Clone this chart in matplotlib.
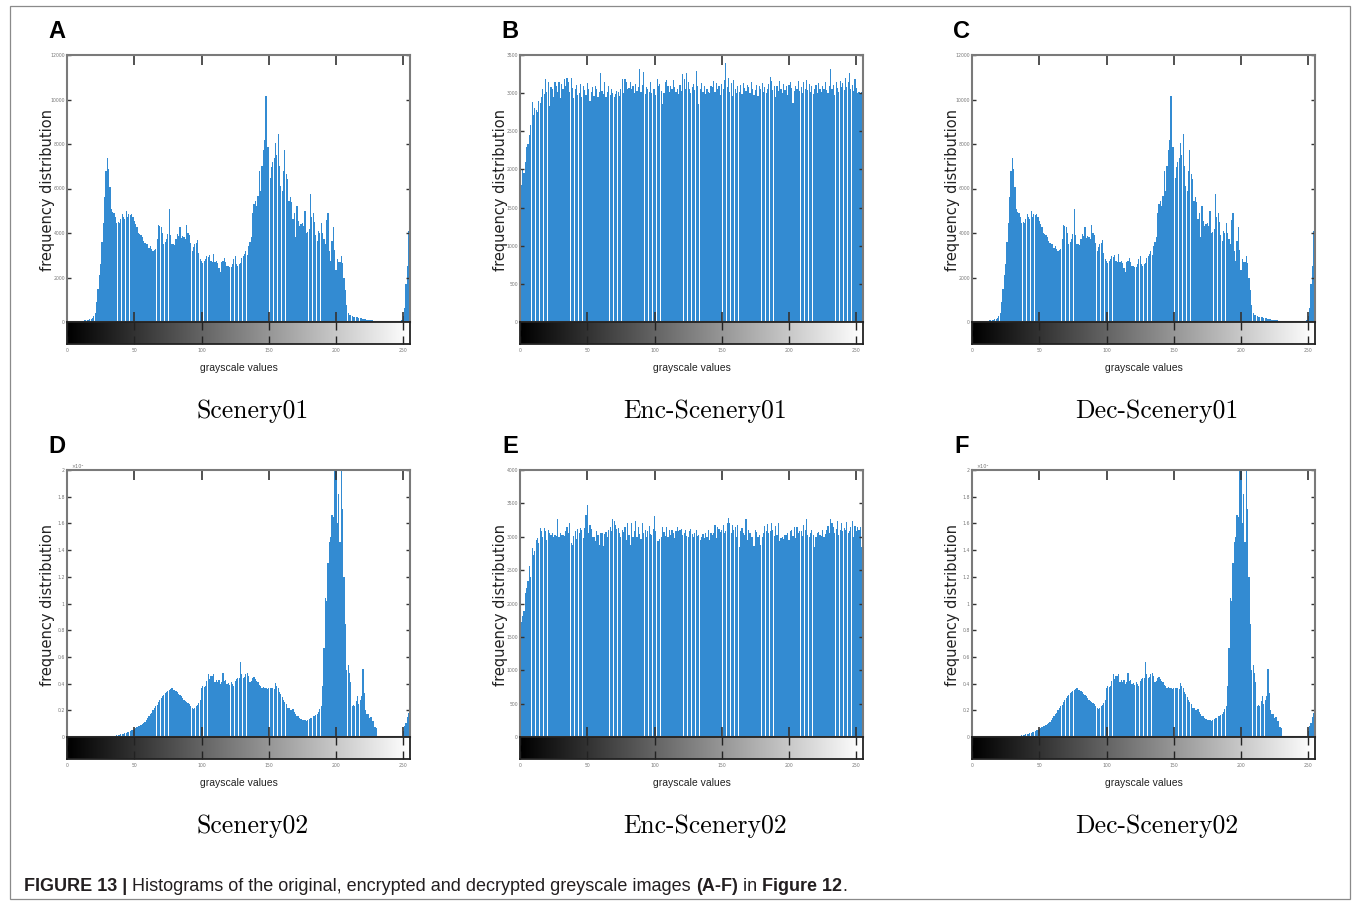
import matplotlib.pyplot as plt
import numpy as np
from matplotlib.patches import Rectangle

W, H = 1356, 901

# histogram counts for grey levels 0..255 (16 per row)
scenery01 = [
    0, 0, 0, 0, 0, 0, 0, 0, 0, 0, 0, 20, 50, 70, 100, 105,
    110, 120, 150, 180, 250, 400, 900, 1500, 2100, 2600, 3600, 4470, 5600, 6800, 7380, 6880,
    6050, 5100, 4950, 4880, 4700, 4470, 4500, 4450, 4620, 4850, 4700, 4650, 4970, 4700, 4850, 4800,
    4850, 4700, 4550, 4400, 4250, 4000, 3950, 3900, 3800, 3640, 3570, 3520, 3490, 3340, 3400, 3270,
    3190, 3250, 3300, 3720, 4370, 4300, 4250, 4020, 3490, 3600, 3720, 3950, 5075, 3900, 3500, 3490,
    3480, 3720, 3950, 3850, 4250, 3765, 3850, 3800, 3750, 4370, 4000, 3900, 3570, 3190, 3350, 3500,
    3550, 3670, 3120, 2820, 2750, 2670, 2750, 2820, 2970, 2900, 3000, 2750, 2700, 3040, 2700, 2750,
    2650, 2440, 2260, 2700, 2750, 2890, 2700, 2520, 2500, 2450, 2480, 2590, 2820, 2970, 2600, 2520,
    2600, 2650, 2890, 2950, 3040, 3190, 3000, 3420, 3600, 3800, 4920, 5300, 5450, 5200, 5680, 6800,
    5900, 7000, 7710, 8190, 10150, 7860, 7850, 6480, 6960, 7200, 7380, 8040, 7500, 8460, 7030, 6120,
    5900, 6800, 7710, 6630, 6430, 5450, 5600, 5400, 4620, 4920, 3800, 5230, 4520, 4320, 4400, 4450,
    4300, 5000, 3980, 4050, 4200, 5750, 4700, 4920, 4500, 3900, 3640, 4100, 4000, 4430, 4000, 3720,
    3500, 4580, 4920, 3200, 2740, 3640, 4250, 3220, 2320, 2820, 2700, 2700, 2970, 2650, 2000, 1460,
    780, 400, 330, 300, 270, 240, 230, 220, 210, 200, 180, 160, 140, 135, 120, 105,
    100, 90, 80, 70, 60, 50, 30, 25, 20, 15, 0, 0, 0, 0, 0, 0,
    0, 0, 0, 0, 0, 0, 0, 0, 30, 90, 255, 630, 1690, 2515, 4100, 12500,
]

enc_scenery01 = [
    3600, 1800, 2000, 1950, 2100, 2300, 2330, 2450, 2580, 2890, 2710, 2800, 2780, 2750, 2900, 2870,
    2950, 3050, 2990, 3180, 3020, 3150, 2830, 3080, 3060, 2950, 3140, 3100, 3020, 3150, 2940, 3120,
    3060, 3180, 3090, 3200, 3150, 3010, 3200, 3070, 2930, 3050, 3110, 2970, 3000, 3120, 2950, 3090,
    3040, 2980, 3130, 3060, 2900, 3010, 3080, 2960, 3100, 3050, 2950, 3010, 3270, 3030, 2990, 3150,
    2950, 3020, 3100, 2980, 3060, 3000, 2950, 2990, 3030, 3010, 2960, 3050, 3190, 3000, 3180, 3140,
    3060, 3070, 3150, 3050, 3090, 3000, 3120, 3030, 3080, 3320, 3010, 3110, 3280, 2990, 3080, 3060,
    3020, 3150, 3000, 3050, 3060, 2970, 3180, 3090, 3120, 3030, 2860, 3000, 3150, 3170, 3090, 3020,
    3100, 3050, 3170, 3080, 3020, 3060, 2990, 3110, 3030, 3250, 3180, 3060, 3270, 3150, 3050, 3000,
    3080, 3120, 3040, 3290, 3100, 2860, 3060, 3130, 3020, 3090, 2990, 3050, 3010, 3000, 3100, 3080,
    3160, 3010, 3130, 3050, 3100, 2980, 3120, 3060, 3170, 3400, 3080, 3200, 3020, 3130, 2960, 3170,
    3050, 3000, 3090, 3020, 3110, 2990, 3130, 3070, 3030, 3110, 3080, 3000, 3150, 3060, 2980, 3040,
    3110, 2960, 3090, 3050, 3130, 3020, 3080, 3000, 3050, 3120, 3210, 3160, 3040, 3100, 2950, 3090,
    3030, 3160, 3060, 3000, 3120, 3040, 3090, 2980, 3110, 3150, 3070, 2870, 3030, 3100, 3050, 3160,
    3030, 3080, 3000, 3140, 3060, 3170, 3040, 3120, 3020, 3090, 2990, 3050, 3110, 3000, 3130, 3060,
    3010, 3100, 3050, 3150, 3040, 3000, 3090, 3320, 3060, 3110, 2980, 3140, 3070, 3020, 3160, 3080,
    3130, 3040, 3200, 3080, 3150, 3260, 3050, 3110, 3030, 3190, 3070, 3000, 3020, 2990, 3010, 3600,
]

scenery02 = [
    0, 0, 0, 0, 0, 0, 0, 0, 0, 0, 0, 0, 0, 0, 0, 0,
    0, 0, 0, 0, 0, 0, 0, 0, 0, 0, 0, 0, 10, 20, 25, 30,
    40, 60, 75, 90, 110, 120, 150, 170, 190, 220, 250, 300, 330, 360, 400, 450,
    500, 540, 600, 680, 740, 800, 840, 880, 950, 1050, 1150, 1300, 1450, 1550, 1750, 1800,
    2000, 2200, 2300, 2400, 2600, 2800, 2950, 3100, 3150, 3300, 3350, 3450, 3550, 3600, 3650, 3550,
    3500, 3450, 3350, 3250, 3150, 3100, 2950, 2800, 2700, 2650, 2550, 2450, 2300, 2200, 2100, 2150,
    2300, 2400, 2550, 2800, 3700, 3800, 3750, 3850, 4200, 4700, 4350, 4600, 4550, 4700, 4150, 4300,
    4100, 4250, 4000, 4100, 4800, 4200, 4300, 3950, 4050, 3900, 4100, 4000, 3850, 4200, 4350, 4450,
    4400, 5650, 4700, 4400, 4500, 4700, 4800, 4600, 4100, 4200, 4400, 4500, 4350, 4200, 4100, 3900,
    3800, 3700, 3750, 3650, 3700, 3600, 3650, 3700, 3650, 3700, 3600, 4050, 3800, 3700, 3400, 3200,
    3000, 2800, 2600, 2450, 2200, 2150, 2050, 2000, 2100, 1850, 1700, 1600, 1550, 1450, 1350, 1300,
    1250, 1250, 1200, 1250, 1350, 1400, 1450, 1550, 1600, 1650, 1750, 1900, 2100, 2350, 3800, 6700,
    10400, 10200, 13000, 14600, 15000, 16600, 16500, 21000, 21000, 16000, 18200, 14600, 21000, 17100, 12000, 8500,
    5000, 5400, 4800, 4100, 2300, 2400, 2300, 2700, 3100, 2500, 2800, 3100, 5100, 3300, 2000, 1700,
    1700, 1400, 1500, 1200, 1200, 750, 700, 80, 0, 0, 0, 0, 0, 0, 0, 0,
    0, 0, 0, 0, 0, 0, 0, 0, 0, 100, 450, 800, 1080, 1500, 1830, 22000,
]

enc_scenery02 = [
    4100, 1720, 1820, 1890, 2150, 2230, 2330, 2560, 2400, 2830, 2730, 2780, 2950, 2980, 2900, 3130,
    3080, 3000, 3130, 3080, 2950, 3100, 3050, 3020, 3060, 3000, 3030, 3010, 3260, 2990, 3050, 3020,
    3030, 3010, 3080, 3140, 3060, 3200, 2900, 2880, 3010, 3090, 2960, 3120, 3060, 3130, 3100, 2980,
    3130, 3330, 3470, 3050, 3180, 3110, 2990, 3000, 2940, 3090, 3030, 2880, 3060, 3050, 2860, 3040,
    3070, 3000, 3100, 3150, 3080, 3260, 3230, 3180, 3120, 3130, 3050, 3000, 3100, 3070, 3140, 2950,
    3210, 3020, 2880, 3200, 3000, 3090, 3230, 2990, 3150, 3040, 2970, 3200, 3050, 3100, 2990, 3080,
    3160, 3040, 3020, 3120, 3310, 3080, 2940, 2940, 2960, 3000, 3150, 3070, 3010, 3140, 3000, 3100,
    3020, 3100, 3050, 2980, 3080, 3140, 3080, 3100, 3120, 3020, 3060, 3100, 3010, 3000, 3090, 3110,
    3040, 3000, 3060, 3100, 3010, 3030, 2950, 3000, 3040, 2980, 3060, 3000, 3100, 2950, 3050, 3020,
    3060, 3180, 2980, 3140, 3120, 3070, 3100, 3180, 3050, 3090, 3210, 3280, 3200, 3050, 3180, 3100,
    3140, 3000, 3170, 2850, 3090, 3130, 3060, 3020, 3260, 2950, 3100, 3060, 2990, 3000, 2860, 3100,
    3070, 3000, 3030, 2880, 3000, 3060, 3160, 3080, 3190, 3050, 3080, 3200, 3100, 3010, 3160, 3030,
    3200, 2930, 2980, 3000, 2960, 3020, 3030, 3050, 2950, 3080, 3100, 3010, 3150, 2980, 3140, 3060,
    3080, 3090, 3010, 3170, 3100, 3270, 3030, 3000, 3050, 3100, 3020, 2840, 3000, 3050, 3070, 3020,
    3010, 3100, 3000, 3040, 3100, 3160, 3060, 3260, 3200, 3150, 3050, 3110, 3240, 3020, 3100, 3210,
    3080, 3130, 3100, 3220, 3060, 3090, 3150, 3230, 2990, 3160, 3080, 3150, 3100, 3140, 2850, 4100,
]

letters = ["A", "B", "C", "D", "E", "F"]
titles = ["Scenery01", "Enc-Scenery01", "Dec-Scenery01",
          "Scenery02", "Enc-Scenery02", "Dec-Scenery02"]
series = [scenery01, enc_scenery01, scenery01, scenery02, enc_scenery02, scenery02]
ymax = [12000, 3500, 12000, 20000, 4000, 20000]
ystep = [2000, 500, 2000, 2000, 500, 2000]
xticks = [0, 50, 100, 150, 200, 250]

for s in series:
    assert len(s) == 256

# layout in pixels
col_left = [67, 520, 972]
row_top = [55, 470]
ax_w, hist_h, cbar_h = 343, 267, 22
title_x = [253, 705, 1157]


def px(x, y, w, h):
    return [x / W, 1 - (y + h) / H, w / W, h / H]


fig = plt.figure(figsize=(W / 100, H / 100), dpi=100)
bg = fig.add_axes([0, 0, 1, 1], zorder=-1)
bg.set_xlim(0, W)
bg.set_ylim(H, 0)
bg.axis('off')
bg.add_patch(Rectangle((10, 6), 1340, 893, fill=False, lw=0.9, edgecolor='#8a8a8a'))

for i in range(6):
    r, c = divmod(i, 3)
    x0, y0 = col_left[c], row_top[r]
    counts = np.array(series[i])
    grey = np.arange(len(counts))

    ax = fig.add_axes(px(x0, y0, ax_w, hist_h))
    ax.bar(grey, counts, width=0.88, color='#338bd2', linewidth=0)
    ax.set_xlim(0, 255)
    ax.set_ylim(0, ymax[i])
    yt = np.arange(0, ymax[i] + 1, ystep[i])
    ax.set_yticks(yt)
    if ymax[i] == 20000:
        ax.set_yticklabels([f'{v / 1e4:g}' for v in yt])
        fig.text((x0 + 4) / W, 1 - (y0 - 4) / H, '×10⁴', fontsize=3.5,
                 color='#777', ha='left', va='center')
    else:
        ax.set_yticklabels([str(v) for v in yt])
    ax.set_xticks(xticks)
    ax.tick_params(axis='x', direction='in', top=True, bottom=True,
                   labelbottom=False, length=7, width=1.2, color='#333')
    ax.tick_params(axis='y', direction='in', left=True, right=True, length=3,
                   width=1, color='#333', labelsize=3.3, labelcolor='#777', pad=1.5)
    for sp in ax.spines.values():
        sp.set_color('#7a7a7a')
        sp.set_linewidth(1.5)

    cb = fig.add_axes(px(x0, y0 + hist_h, ax_w, cbar_h))
    cb.imshow(np.linspace(0, 1, 256)[None, :], cmap='gray', aspect='auto',
              extent=(0, 255, 0, 1))
    cb.set_xlim(0, 255)
    cb.set_ylim(0, 1)
    cb.set_yticks([])
    cb.set_xticks(xticks)
    cb.tick_params(axis='x', direction='in', top=True, bottom=True, length=6,
                   width=1, color='#222', labelsize=3.3, labelcolor='#777', pad=3)
    for sp in cb.spines.values():
        sp.set_color('#222')
        sp.set_linewidth(1.3)

    fig.text((x0 - 19) / W, 1 - (y0 + 135) / H, 'frequency distribution',
             rotation=90, ha='center', va='center', fontsize=10.5, color='#222')
    fig.text((x0 + 172) / W, 1 - (y0 + 313) / H, 'grayscale values',
             ha='center', va='center', fontsize=7.5, family='Liberation Sans',
             color='#222')
    fig.text((x0 - 10) / W, 1 - (y0 - 23) / H, letters[i], ha='center',
             va='center', fontsize=17, fontweight='bold', family='Liberation Sans')
    fig.text(title_x[c] / W, 1 - (y0 + 356) / H, titles[i], ha='center',
             va='center', fontsize=18.5, family='cmr10')

# caption with bold pieces
t = bg.text(24, 891, 'FIGURE 13 | ', fontweight='bold', ha='left', va='baseline',
            fontsize=13, family='Liberation Sans', color='#231f20')
pieces = [('Histograms of the original, encrypted and decrypted greyscale images ', 'normal'),
          ('(A-F)', 'bold'), (' in ', 'normal'), ('Figure 12', 'bold'), ('.', 'normal')]
for txt, wt in pieces:
    t = bg.annotate(txt, xy=(1, 0), xycoords=t, ha='left', va='bottom', fontweight=wt,
                    fontsize=13, family='Liberation Sans', color='#231f20')

fig.savefig('out.png', dpi=100)
